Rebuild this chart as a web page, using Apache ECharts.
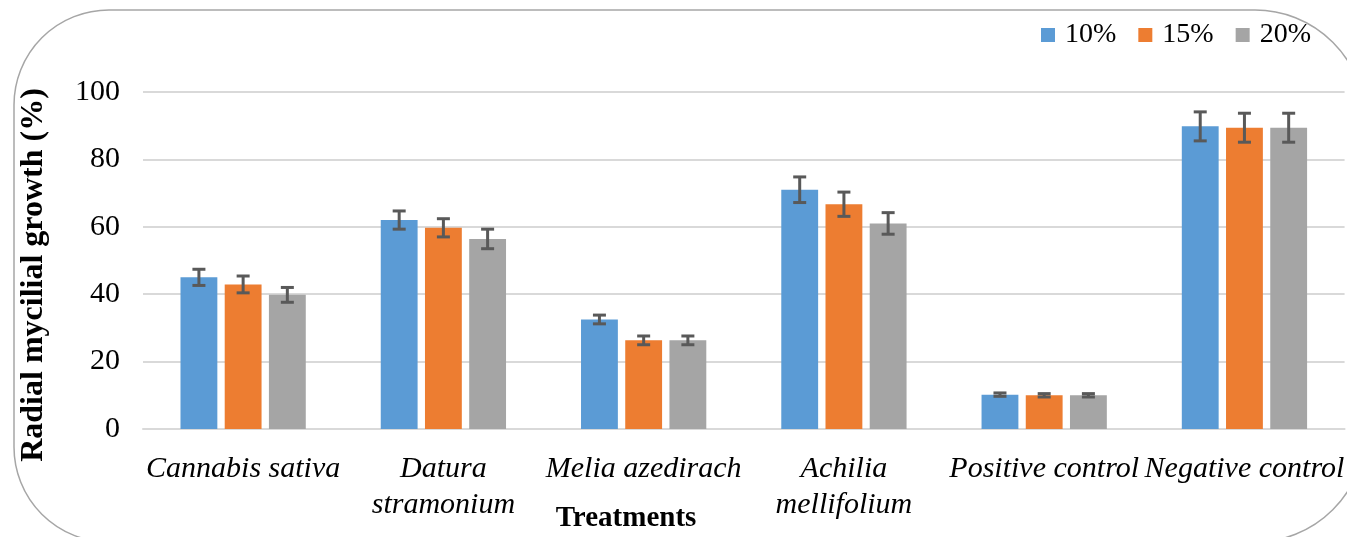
<!DOCTYPE html>
<html>
<head>
<meta charset="utf-8">
<script src="https://cdn.jsdelivr.net/npm/echarts@6/dist/echarts.min.js"></script>
<style>
html,body{margin:0;padding:0;background:#fff;}
#chart{width:1347px;height:537px;}
</style>
</head>
<body>
<div id="chart"></div>
<script>
const categories = ['Cannabis sativa', 'Datura\nstramonium', 'Melia azedirach', 'Achilia\nmellifolium', 'Positive control', 'Negative control'];
const seriesNames = ['10%', '15%', '20%'];
const values10 = [45.0, 62.0, 32.5, 71.0, 10.2, 89.8];
const values15 = [42.9, 59.7, 26.3, 66.7, 10.0, 89.4];
const values20 = [39.8, 56.4, 26.3, 61.0, 10.0, 89.4];
const errors10 = [2.4, 2.7, 1.3, 3.8, 0.5, 4.3];
const errors15 = [2.5, 2.7, 1.3, 3.6, 0.5, 4.3];
const errors20 = [2.2, 2.9, 1.3, 3.2, 0.5, 4.3];
const yTicks = [0, 20, 40, 60, 80, 100];

const colors = ['#5b9bd5', '#ed7d31', '#a5a5a5'];
const allValues = [values10, values15, values20];
const allErrors = [errors10, errors15, errors20];
const BAR_FRAC = 0.184;
const GAP_FRAC = 0.2;
const SERIF = '"Liberation Serif", "Times New Roman", serif';

const chart = echarts.init(document.getElementById('chart'));

const series = [];
seriesNames.forEach((name, i) => {
  series.push({
    name: name,
    type: 'bar',
    data: allValues[i],
    barWidth: (BAR_FRAC * 100) + '%',
    barGap: (GAP_FRAC * 100) + '%',
    itemStyle: { color: colors[i] },
    z: 2
  });
});
seriesNames.forEach((name, i) => {
  series.push({
    name: name + ' err',
    type: 'custom',
    data: allValues[i].map((v, k) => [k, v, allErrors[i][k]]),
    z: 5,
    renderItem: function (params, api) {
      const idx = api.value(0), v = api.value(1), e = api.value(2);
      const c = api.coord([idx, v]);
      const band = api.size([1, 0])[0];
      const bw = band * BAR_FRAC;
      const gap = bw * GAP_FRAC;
      const x = c[0] + (i - 1) * (bw + gap);
      const top = api.coord([idx, v + e])[1];
      const bot = api.coord([idx, v - e])[1];
      const cap = 6.5;
      const st = { stroke: '#595959', lineWidth: 3 };
      return {
        type: 'group',
        children: [
          { type: 'line', shape: { x1: x, y1: top, x2: x, y2: bot }, style: st },
          { type: 'line', shape: { x1: x - cap, y1: top, x2: x + cap, y2: top }, style: st },
          { type: 'line', shape: { x1: x - cap, y1: bot, x2: x + cap, y2: bot }, style: st }
        ]
      };
    }
  });
});

chart.setOption({
  animation: false,
  backgroundColor: '#ffffff',
  textStyle: { fontFamily: SERIF },
  legend: {
    data: seriesNames,
    left: 1036,
    top: 16,
    icon: 'rect',
    itemWidth: 14,
    itemHeight: 14,
    itemGap: 22,
    textStyle: { fontFamily: SERIF, fontSize: 28, lineHeight: 28, color: '#000', padding: [0, 0, 0, 5] }
  },
  grid: { left: 143, right: -1, top: 92, bottom: 108, containLabel: false },
  xAxis: {
    type: 'category',
    data: categories,
    axisTick: { show: false },
    axisLine: { lineStyle: { color: '#d9d9d9', width: 2 } },
    axisLabel: {
      interval: 0,
      fontFamily: SERIF,
      fontStyle: 'italic',
      fontSize: 30,
      lineHeight: 36,
      color: '#000',
      margin: 22
    }
  },
  yAxis: {
    type: 'value',
    min: 0,
    max: 100,
    interval: 20,
    axisLine: { show: false },
    axisTick: { show: false },
    splitLine: { lineStyle: { color: '#d9d9d9', width: 2 } },
    axisLabel: {
      fontFamily: SERIF,
      fontSize: 30,
      color: '#000',
      margin: 23,
      formatter: function (v) { return yTicks.indexOf(v) >= 0 ? String(v) : ''; }
    }
  },
  graphic: [
    {
      type: 'rect',
      shape: { x: 14, y: 10, width: 1351, height: 532, r: [95, 110, 110, 95] },
      style: { fill: 'none', stroke: '#a6a6a6', lineWidth: 1.5 },
      silent: true,
      z: -1
    },
    {
      type: 'text',
      x: 34,
      y: 275,
      rotation: Math.PI / 2,
      style: {
        text: 'Radial mycilial growth (%)',
        fontFamily: SERIF,
        fontWeight: 'bold',
        fontSize: 32,
        fill: '#000',
        textAlign: 'center',
        textVerticalAlign: 'middle'
      }
    },
    {
      type: 'text',
      x: 626,
      y: 519,
      style: {
        text: 'Treatments',
        fontFamily: SERIF,
        fontWeight: 'bold',
        fontSize: 29,
        fill: '#000',
        textAlign: 'center',
        textVerticalAlign: 'middle'
      }
    }
  ],
  series: series
});
</script>
</body>
</html>
